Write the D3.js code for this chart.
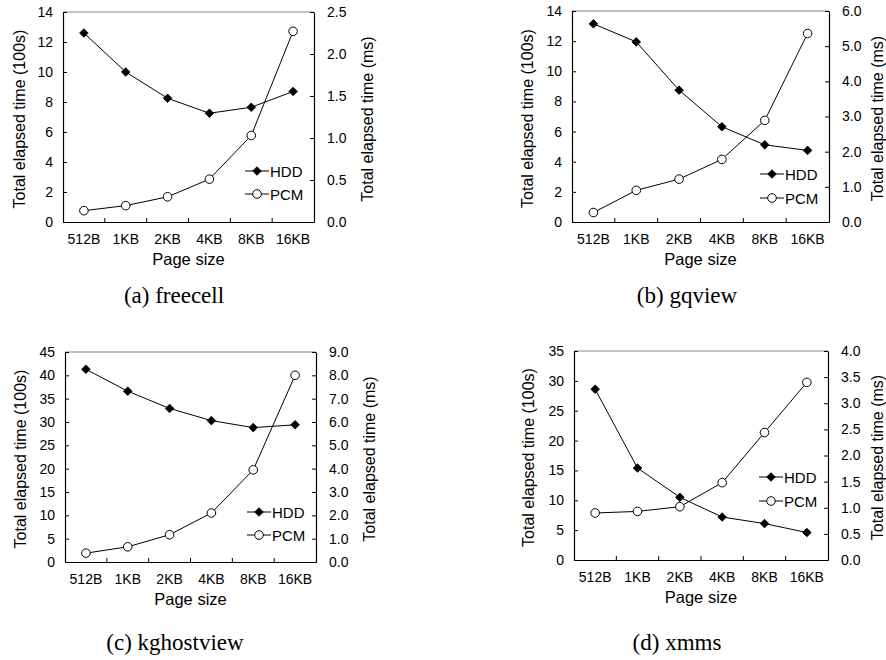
<!DOCTYPE html>
<html>
<head>
<meta charset="utf-8">
<script src="https://cdn.jsdelivr.net/npm/d3@7"></script>
<style>
  html, body { margin: 0; padding: 0; background: #fff; }
  svg { display: block; }
  text { font-family: "Liberation Sans", Arial, sans-serif; fill: #000; }
</style>
</head>
<body>
<svg id="chart" width="886" height="660"></svg>
<script>
// ---------------- DATA ----------------
const categories = ["512B", "1KB", "2KB", "4KB", "8KB", "16KB"];
const seriesNames = ["HDD", "PCM"];

const freecellHDD = [12.6, 10.0, 8.25, 7.25, 7.65, 8.7];
const freecellPCM = [0.135, 0.195, 0.30, 0.51, 1.03, 2.27];

const gqviewHDD = [13.15, 11.95, 8.75, 6.32, 5.12, 4.75];
const gqviewPCM = [0.27, 0.90, 1.22, 1.78, 2.89, 5.36];

const kghostviewHDD = [41.3, 36.6, 32.9, 30.3, 28.8, 29.4];
const kghostviewPCM = [0.38, 0.65, 1.17, 2.10, 3.95, 8.0];

const xmmsHDD = [28.6, 15.4, 10.5, 7.2, 6.1, 4.6];
const xmmsPCM = [0.90, 0.93, 1.02, 1.48, 2.44, 3.40];

const leftTicksA = [0, 2, 4, 6, 8, 10, 12, 14];
const rightTicksA = [0, 0.5, 1.0, 1.5, 2.0, 2.5];
const leftTicksB = [0, 2, 4, 6, 8, 10, 12, 14];
const rightTicksB = [0, 1, 2, 3, 4, 5, 6];
const leftTicksC = [0, 5, 10, 15, 20, 25, 30, 35, 40, 45];
const rightTicksC = [0, 1, 2, 3, 4, 5, 6, 7, 8, 9];
const leftTicksD = [0, 5, 10, 15, 20, 25, 30, 35];
const rightTicksD = [0, 0.5, 1.0, 1.5, 2.0, 2.5, 3.0, 3.5, 4.0];

const captions = ["(a) freecell", "(b) gqview", "(c) kghostview", "(d) xmms"];
const leftTitle = "Total elapsed time (100s)";
const rightTitle = "Total elapsed time (ms)";
const xTitle = "Page size";

// ---------------- LAYOUT ----------------
const panels = [
  { hdd: freecellHDD, pcm: freecellPCM, lt: leftTicksA, rt: rightTicksA, caption: captions[0],
    left: 63, right: 314, top: 12, bottom: 222, ltx: 19, rtx: 367, leg: [-51, -28], cap: [174, 303] },
  { hdd: gqviewHDD, pcm: gqviewPCM, lt: leftTicksB, rt: rightTicksB, caption: captions[1],
    left: 572, right: 829, top: 11, bottom: 222, ltx: 527, rtx: 877, leg: [-48, -24], cap: [687, 303] },
  { hdd: kghostviewHDD, pcm: kghostviewPCM, lt: leftTicksC, rt: rightTicksC, caption: captions[2],
    left: 65, right: 316, top: 352, bottom: 562, ltx: 20, rtx: 369, leg: [-50, -27], cap: [175, 650] },
  { hdd: xmmsHDD, pcm: xmmsPCM, lt: leftTicksD, rt: rightTicksD, caption: captions[3],
    left: 574, right: 828, top: 351, bottom: 560, ltx: 528, rtx: 877, leg: [-83, -59], cap: [677, 650] }
];

const svg = d3.select("#chart");

function drawHDDMarker(g, x, y) {
  g.append("path")
    .attr("d", d3.symbol().type(d3.symbolSquare).size(37)())
    .attr("transform", `translate(${x},${y}) rotate(45)`)
    .attr("fill", "#000").attr("stroke", "#000").attr("stroke-width", 0.8);
}
function drawPCMMarker(g, x, y) {
  g.append("circle").attr("cx", x).attr("cy", y).attr("r", 4.3)
    .attr("fill", "#fff").attr("stroke", "#000").attr("stroke-width", 1);
}

panels.forEach(p => {
  const g = svg.append("g");
  const xBand = d3.scaleBand().domain(categories).range([p.left, p.right]).paddingInner(0).paddingOuter(0);
  const x = d3.scalePoint().domain(categories).range([p.left, p.right]).padding(0.5);
  const yL = d3.scaleLinear().domain([p.lt[0], p.lt[p.lt.length - 1]]).range([p.bottom, p.top]);
  const yR = d3.scaleLinear().domain([p.rt[0], p.rt[p.rt.length - 1]]).range([p.bottom, p.top]);

  // top border (gray)
  g.append("line").attr("x1", p.left).attr("x2", p.right).attr("y1", p.top).attr("y2", p.top)
    .attr("stroke", "#888").attr("stroke-width", 1.2);

  const ax1 = g.append("g").attr("transform", `translate(${p.left},0)`)
    .call(d3.axisLeft(yL).tickValues(p.lt).tickFormat(d3.format("d")).tickSizeInner(-4).tickSizeOuter(0).tickPadding(10));
  const ax2 = g.append("g").attr("transform", `translate(${p.right},0)`)
    .call(d3.axisRight(yR).tickValues(p.rt).tickFormat(d3.format(".1f")).tickSizeInner(-4).tickSizeOuter(0).tickPadding(13));
  const ax3 = g.append("g").attr("transform", `translate(0,${p.bottom})`)
    .call(d3.axisBottom(xBand).tickSize(0).tickPadding(12));
  g.selectAll("line.sep").data(categories.slice(1)).enter().append("line")
    .attr("x1", d => xBand(d)).attr("x2", d => xBand(d))
    .attr("y1", p.bottom).attr("y2", p.bottom - 4)
    .attr("stroke", "#000").attr("stroke-width", 1);

  [ax1, ax2, ax3].forEach(a => {
    a.selectAll("path.domain").attr("stroke", "#000").attr("stroke-width", 1.2);
    a.selectAll(".tick line").attr("stroke", "#000");
    a.selectAll("text").style("font-family", "'Liberation Sans', Arial, sans-serif")
      .style("font-size", "14px").attr("fill", "#000");
  });

  const cy = (p.top + p.bottom) / 2 + 2;
  g.append("text").attr("transform", `translate(${p.ltx},${cy}) rotate(-90)`)
    .attr("text-anchor", "middle").attr("dominant-baseline", "central")
    .style("font-size", "16px").text(leftTitle);
  g.append("text").attr("transform", `translate(${p.rtx},${cy}) rotate(-90)`)
    .attr("text-anchor", "middle").attr("dominant-baseline", "central")
    .style("font-size", "16px").text(rightTitle);
  g.append("text").attr("x", (p.left + p.right) / 2).attr("y", p.bottom + 43)
    .attr("text-anchor", "middle").style("font-size", "16.5px").text(xTitle);

  const lineL = d3.line().x((d, i) => x(categories[i])).y(d => yL(d));
  const lineR = d3.line().x((d, i) => x(categories[i])).y(d => yR(d));
  g.append("path").attr("d", lineL(p.hdd)).attr("fill", "none").attr("stroke", "#000").attr("stroke-width", 1);
  g.append("path").attr("d", lineR(p.pcm)).attr("fill", "none").attr("stroke", "#000").attr("stroke-width", 1);

  p.hdd.forEach((v, i) => drawHDDMarker(g, x(categories[i]), yL(v)));
  p.pcm.forEach((v, i) => drawPCMMarker(g, x(categories[i]), yR(v)));

  seriesNames.forEach((name, k) => {
    const ly = p.bottom + p.leg[k];
    g.append("line").attr("x1", p.right - 69).attr("x2", p.right - 45)
      .attr("y1", ly).attr("y2", ly).attr("stroke", "#000").attr("stroke-width", 1);
    if (k === 0) drawHDDMarker(g, p.right - 57, ly); else drawPCMMarker(g, p.right - 57, ly);
    g.append("text").attr("x", p.right - 44).attr("y", ly)
      .attr("dominant-baseline", "central").style("font-size", "15px").text(name);
  });

  g.append("text").attr("x", p.cap[0]).attr("y", p.cap[1]).attr("text-anchor", "middle")
    .style("font-family", "'Liberation Serif', 'Times New Roman', serif").style("font-size", "23px")
    .text(p.caption);
});
</script>
</body>
</html>
